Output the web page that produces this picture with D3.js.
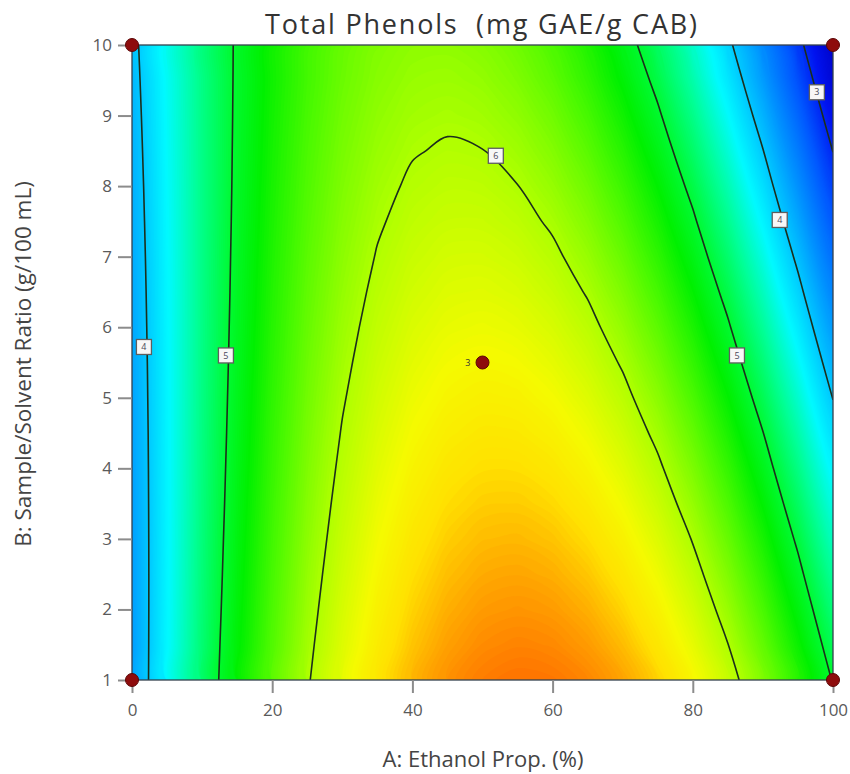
<!DOCTYPE html>
<html>
<head>
<meta charset="utf-8">
<script src="https://cdn.jsdelivr.net/npm/d3@7"></script>
<style>
  body { margin: 0; background: #ffffff; }
  svg { display: block; }
</style>
</head>
<body>
<svg id="chart" width="850" height="774"></svg>
<script>
// ---------------- data ----------------
const ethanolA = [0,5,10,15,20,25,30,35,40,45,50,55,60,65,70,75,80,85,90,95,100];
const ratioB = [1,1.5,2,2.5,3,3.5,4,4.5,5,5.5,6,6.5,7,7.5,8,8.5,9,9.5,10];
// Total phenols (mg GAE/g CAB); one row per ratioB value, one column per ethanolA value
const phenols = [
  [3.741,4.290,4.788,5.235,5.631,5.975,6.268,6.509,6.700,6.839,6.926,6.963,6.948,6.882,6.764,6.596,6.375,6.104,5.781,5.407,4.982],
  [3.741,4.284,4.776,5.216,5.605,5.943,6.229,6.465,6.649,6.782,6.864,6.895,6.874,6.802,6.680,6.505,6.280,6.004,5.676,5.297,4.867],
  [3.743,4.279,4.764,5.197,5.580,5.911,6.192,6.421,6.599,6.726,6.802,6.826,6.800,6.723,6.594,6.414,6.184,5.902,5.569,5.185,4.750],
  [3.746,4.275,4.753,5.180,5.556,5.881,6.154,6.377,6.549,6.670,6.739,6.758,6.726,6.642,6.508,6.322,6.086,5.798,5.460,5.070,4.630],
  [3.750,4.273,4.744,5.164,5.533,5.851,6.118,6.334,6.500,6.614,6.677,6.690,6.651,6.561,6.421,6.229,5.987,5.694,5.349,4.954,4.507],
  [3.756,4.271,4.735,5.148,5.511,5.822,6.083,6.292,6.451,6.559,6.615,6.621,6.576,6.480,6.333,6.135,5.887,5.587,5.236,4.835,4.382],
  [3.762,4.270,4.727,5.134,5.489,5.794,6.048,6.250,6.402,6.503,6.554,6.553,6.501,6.398,6.245,6.041,5.785,5.479,5.122,4.714,4.255],
  [3.769,4.270,4.721,5.120,5.469,5.767,6.014,6.209,6.354,6.449,6.492,6.484,6.426,6.316,6.156,5.945,5.682,5.369,5.006,4.591,4.125],
  [3.778,4.272,4.715,5.108,5.450,5.740,5.980,6.169,6.307,6.394,6.430,6.416,6.350,6.233,6.066,5.848,5.578,5.258,4.887,4.465,3.992],
  [3.787,4.274,4.711,5.096,5.431,5.715,5.947,6.129,6.260,6.340,6.369,6.347,6.274,6.150,5.976,5.750,5.473,5.146,4.767,4.338,3.857],
  [3.798,4.278,4.707,5.086,5.413,5.690,5.915,6.090,6.213,6.286,6.308,6.278,6.198,6.067,5.884,5.651,5.367,5.031,4.645,4.208,3.720],
  [3.809,4.283,4.705,5.076,5.397,5.666,5.884,6.051,6.167,6.232,6.246,6.209,6.121,5.982,5.792,5.551,5.259,4.916,4.521,4.076,3.580],
  [3.822,4.288,4.704,5.068,5.381,5.643,5.853,6.013,6.122,6.179,6.185,6.141,6.045,5.898,5.699,5.450,5.150,4.798,4.396,3.942,3.437],
  [3.836,4.295,4.703,5.060,5.366,5.620,5.823,5.975,6.076,6.126,6.124,6.072,5.968,5.812,5.606,5.348,5.040,4.679,4.268,3.806,3.292],
  [3.850,4.303,4.704,5.053,5.352,5.599,5.794,5.939,6.032,6.073,6.064,6.003,5.890,5.727,5.512,5.246,4.928,4.559,4.139,3.667,3.144],
  [3.866,4.312,4.705,5.048,5.338,5.578,5.766,5.902,5.987,6.021,6.003,5.934,5.813,5.640,5.417,5.142,4.815,4.437,4.008,3.527,2.994],
  [3.883,4.321,4.708,5.043,5.326,5.558,5.738,5.866,5.943,5.969,5.942,5.864,5.735,5.554,5.321,5.037,4.701,4.313,3.874,3.384,2.841],
  [3.901,4.332,4.711,5.039,5.315,5.539,5.711,5.831,5.900,5.917,5.882,5.795,5.657,5.467,5.225,4.931,4.586,4.188,3.739,3.239,2.686],
  [3.920,4.344,4.716,5.036,5.304,5.520,5.684,5.796,5.857,5.865,5.821,5.726,5.578,5.379,5.127,4.824,4.469,4.062,3.602,3.091,2.528]
];
const contourLevels = [3, 4, 5, 6];
const labelValues = [4, 5, 6, 5, 4, 3];
const labelA = [1.7, 13.4, 51.9, 86.3, 92.4, 97.7];
const labelB = [5.72, 5.6, 8.43, 5.6, 7.52, 9.33];
const designA = [0, 0, 100, 100, 50];
const designB = [1, 10, 1, 10, 5.5];
const designReps = [1, 1, 1, 1, 3];
const xTicks = [0, 20, 40, 60, 80, 100];
const yTicks = [1, 2, 3, 4, 5, 6, 7, 8, 9, 10];
const titleText = "Total Phenols  (mg GAE/g CAB)";
const xTitle = "A: Ethanol Prop. (%)";
const yTitle = "B: Sample/Solvent Ratio (g/100 mL)";

// colour ramp (Design-Expert style blue-cyan-green-yellow-orange)
const rampValues = [2.5, 2.9, 3.3, 3.7, 4.0, 4.3, 4.65, 5.0, 5.25, 5.6, 6.0, 6.35, 6.55, 6.75, 7.0];
const rampColors = ["#0000be","#0014f0","#005aff","#0096ff","#00c8ff","#00faff","#00ff96","#00fa32",
                    "#00f000","#50fa00","#afff00","#f5fa00","#ffe100","#ffa800","#ff6a00"];

// ---------------- drawing ----------------
const FONT = "'Open Sans', 'Noto Sans', sans-serif";
const L = 132, R = 833, T = 45, B = 680;
const svg = d3.select("#chart");
const x = d3.scaleLinear().domain([0, 100]).range([L, R]);
const y = d3.scaleLinear().domain([1, 10]).range([B, T]);
const color = d3.scaleLinear().domain(rampValues).range(rampColors).clamp(true);

const nx = ethanolA.length, ny = ratioB.length;
const values = phenols.flat();
const stepA = ethanolA[1] - ethanolA[0], stepB = ratioB[1] - ratioB[0];
const gxMin = 0.5, gxMax = nx - 0.5, gyMin = 0.5, gyMax = ny - 0.5;
// grid coordinates from d3.contours -> pixels (clamped to the sampled area)
const toPx = p => {
  const gx = Math.max(gxMin, Math.min(gxMax, p[0]));
  const gy = Math.max(gyMin, Math.min(gyMax, p[1]));
  return [x(ethanolA[0] + (gx - 0.5) * stepA), y(ratioB[0] + (gy - 0.5) * stepB)];
};
// drop vertices that sit almost on top of the previous one (avoids spline kinks)
const thin = (pts, keepEnds) => {
  const out = [];
  pts.forEach((p, i) => {
    const last = out[out.length - 1];
    const isEnd = keepEnds && i === pts.length - 1;
    if (!last || Math.hypot(p[0] - last[0], p[1] - last[1]) > 6 || isEnd) {
      if (isEnd && last && Math.hypot(p[0] - last[0], p[1] - last[1]) <= 6 && out.length > 1) out.pop();
      out.push(p);
    }
  });
  return out;
};
const inside = p => p[0] >= gxMin - 1e-9 && p[0] <= gxMax + 1e-9 && p[1] >= gyMin - 1e-9 && p[1] <= gyMax + 1e-9;
const closedLine = d3.line().curve(d3.curveCatmullRomClosed.alpha(0.5));
const openLine = d3.line().curve(d3.curveCatmullRom.alpha(0.5));

// filled bands: closed smooth rings
const bandPath = mp => mp.coordinates
  .map(poly => poly.map(ring => closedLine(thin(ring.slice(0, -1).map(toPx), false))).join(""))
  .join("");

// iso-lines: drop the parts that run along the outer grid border
const isoPath = mp => {
  let out = "";
  mp.coordinates.forEach(poly => poly.forEach(ring => {
    const pts = ring.slice(0, -1);
    const k = pts.findIndex(p => !inside(p));
    if (k < 0) { out += closedLine(thin(pts.map(toPx), false)); return; }
    const rot = pts.slice(k).concat(pts.slice(0, k));
    let run = [];
    rot.concat([rot[0]]).forEach(p => {
      if (inside(p)) run.push(p);
      else { if (run.length > 1) out += openLine(thin(run.map(toPx), true)); run = []; }
    });
  }));
  return out;
};

svg.append("defs").append("clipPath").attr("id", "plotClip")
  .append("rect").attr("x", L).attr("y", T).attr("width", R - L).attr("height", B - T);

const plot = svg.append("g").attr("clip-path", "url(#plotClip)");
const bandStep = 0.02;
const bandThresholds = d3.range(2.4, 7.05, bandStep);
plot.append("rect").attr("x", L).attr("y", T).attr("width", R - L).attr("height", B - T)
  .attr("fill", color(2.4));
const bands = d3.contours().size([nx, ny]).thresholds(bandThresholds)(values);
plot.selectAll("path.band").data(bands.filter(b => b.coordinates.length)).join("path")
  .attr("class", "band")
  .attr("d", bandPath)
  .attr("fill", d => color(d.value + bandStep / 2));

// contour lines
const lineGen = d3.contours().size([nx, ny]);
plot.selectAll("path.iso").data(contourLevels.map(v => lineGen.contour(values, v))).join("path")
  .attr("class", "iso")
  .attr("d", isoPath)
  .attr("fill", "none")
  .attr("stroke", "#1c2e1c")
  .attr("stroke-width", 1.6);

// frame
svg.append("rect").attr("x", L).attr("y", T).attr("width", R - L).attr("height", B - T)
  .attr("fill", "none").attr("stroke", "#34414e").attr("stroke-width", 1.3);

// contour labels
const lab = svg.append("g");
labelValues.forEach((v, i) => {
  const cx = x(labelA[i]), cy = y(labelB[i]);
  lab.append("rect").attr("x", cx - 7.5).attr("y", cy - 7.5).attr("width", 15).attr("height", 15)
    .attr("fill", "#f7f7f7").attr("stroke", "#5e5e5e").attr("stroke-width", 1.3);
  lab.append("text").attr("x", cx).attr("y", cy + 3.2).attr("text-anchor", "middle")
    .attr("font-family", FONT).attr("font-size", 9).attr("fill", "#4a4a5a").text(v);
});

// axes
const xAxis = svg.append("g").attr("transform", `translate(0,${B})`)
  .call(d3.axisBottom(x).tickValues(xTicks).tickSize(13).tickPadding(11).tickFormat(d3.format("d")));
const yAxis = svg.append("g").attr("transform", `translate(${L},0)`)
  .call(d3.axisLeft(y).tickValues(yTicks).tickSize(14).tickPadding(6).tickFormat(d3.format("d")));
[xAxis, yAxis].forEach(ax => {
  ax.select(".domain").remove();
  ax.attr("font-family", FONT).attr("font-size", 17);
  ax.selectAll(".tick line").attr("stroke", "#8c8c8c").attr("stroke-width", 2);
  ax.selectAll(".tick text").attr("fill", "#5a5a5a");
});

// design points (above ticks)
const pts = svg.append("g");
designA.forEach((a, i) => {
  pts.append("circle").attr("cx", x(a)).attr("cy", y(designB[i])).attr("r", 6.5)
    .attr("fill", "#8e0c0c").attr("stroke", "#5c0606").attr("stroke-width", 1);
  if (designReps[i] > 1) {
    pts.append("text").attr("x", x(a) - 12).attr("y", y(designB[i]) + 3.5)
      .attr("text-anchor", "end").attr("font-family", FONT).attr("font-size", 9)
      .attr("fill", "#333").text(designReps[i]);
  }
});

// titles
svg.append("text").attr("x", 481).attr("y", 34).attr("text-anchor", "middle")
  .attr("font-family", FONT).attr("font-size", 27).attr("fill", "#333")
  .attr("textLength", 432).attr("lengthAdjust", "spacing")
  .style("white-space", "pre").text(titleText);
svg.append("text").attr("x", 483).attr("y", 767).attr("text-anchor", "middle")
  .attr("font-family", FONT).attr("font-size", 22).attr("fill", "#444").text(xTitle);
svg.append("text").attr("transform", `translate(31,${364}) rotate(-90)`)
  .attr("text-anchor", "middle")
  .attr("font-family", FONT).attr("font-size", 22.5).attr("fill", "#444").text(yTitle);
</script>
</body>
</html>
